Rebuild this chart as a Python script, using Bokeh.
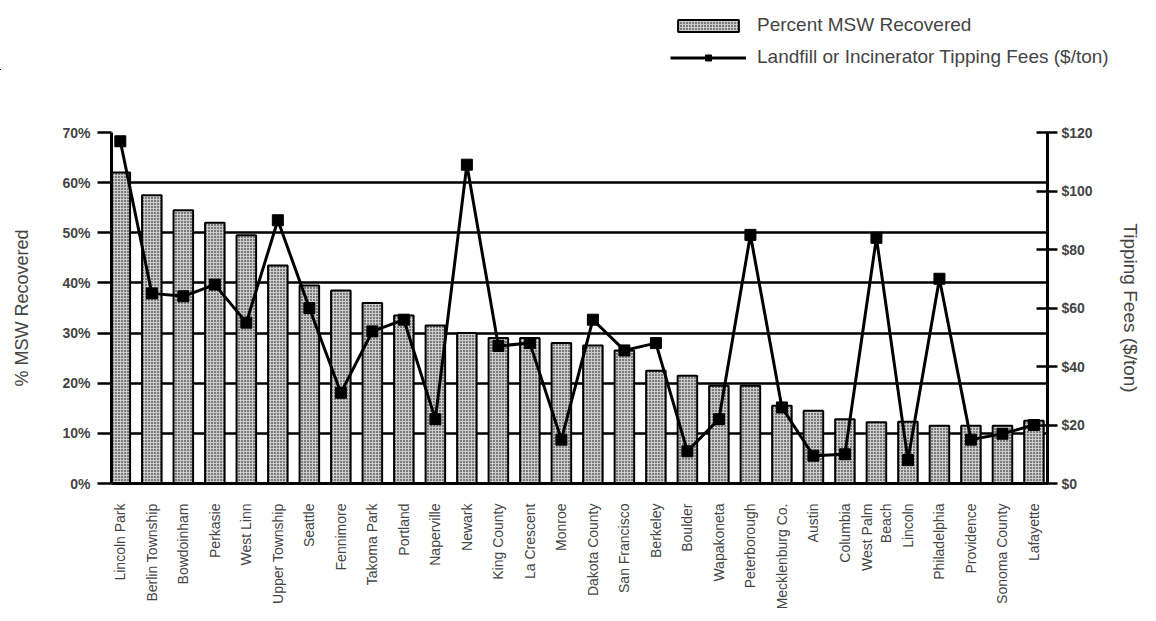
import math
from bokeh.plotting import figure
from bokeh.models import (Range1d, LinearAxis, FixedTicker, PrintfTickFormatter,
                          Legend, LegendItem, ColumnDataSource)
from bokeh.embed import file_html
from bokeh.resources import INLINE

# ---- data ----
cities = ["Lincoln Park", "Berlin Township", "Bowdoinham", "Perkasie", "West Linn",
          "Upper Township", "Seattle", "Fennimore", "Takoma Park", "Portland",
          "Naperville", "Newark", "King County", "La Crescent", "Monroe",
          "Dakota County", "San Francisco", "Berkeley", "Boulder", "Wapakoneta",
          "Peterborough", "Mecklenburg Co.", "Austin", "Columbia", "West Palm\nBeach",
          "Lincoln", "Philadelphia", "Providence", "Sonoma County", "Lafayette"]

pct_recovered = [62, 57.5, 54.5, 52, 49.5,
                 43.5, 39.5, 38.5, 36, 33.5,
                 31.5, 30, 29, 29, 28,
                 27.5, 26.5, 22.5, 21.5, 19.5,
                 19.5, 15.5, 14.5, 12.8, 12.2,
                 12.3, 11.5, 11.5, 11.5, 12.5]

tipping_fees = [117, 65, 64, 68, 55,
                90, 60, 31, 52, 56,
                22, 109, 47, 48, 15,
                56, 45.5, 48, 11, 22,
                85, 26, 9.5, 10, 84,
                8, 70, 15, 17, 20]

pct_ticks = [0, 10, 20, 30, 40, 50, 60, 70]
fee_ticks = [0, 20, 40, 60, 80, 100, 120]

FONT = "Liberation Sans"

BAR_STYLE = dict(fill_color="#cccccc", line_color="black", line_width=2,
                 hatch_pattern="dot", hatch_color="black", hatch_scale=3, hatch_weight=1)
LINE_STYLE = dict(line_color="black", line_width=3)
MARK_STYLE = dict(marker="square", size=11, fill_color="black", line_color="black")

xs = list(range(1, len(cities) + 1))
src = ColumnDataSource(dict(x=xs, pct=pct_recovered, fee=tipping_fees, city=cities))

# ---------------- main chart ----------------
p = figure(width=1148, height=548, output_backend="svg", toolbar_location=None,
           x_range=Range1d(0.72, 30.43), y_range=Range1d(0, 70),
           min_border_left=111, min_border_right=101,
           min_border_top=62, min_border_bottom=135)
p.extra_y_ranges = {"fee": Range1d(0, 120)}
p.outline_line_color = None
p.background_fill_color = "white"

p.vbar(x="x", top="pct", bottom=0, width=0.62, source=src, **BAR_STYLE)
p.line(x="x", y="fee", source=src, y_range_name="fee", **LINE_STYLE)
p.scatter(x="x", y="fee", source=src, y_range_name="fee", **MARK_STYLE)

p.xgrid.grid_line_color = None
p.ygrid.ticker = FixedTicker(ticks=pct_ticks)
p.ygrid.grid_line_color = "black"
p.ygrid.grid_line_width = 2.5

ya = p.yaxis[0]
ya.ticker = FixedTicker(ticks=pct_ticks)
ya.formatter = PrintfTickFormatter(format="%d%%")
ya.axis_label = "% MSW Recovered"
ya.axis_label_text_font = FONT
ya.axis_label_text_font_size = "18px"
ya.axis_label_text_font_style = "normal"
ya.axis_label_standoff = 27
ya.major_label_text_font = FONT
ya.major_label_text_font_size = "14px"
ya.major_label_text_font_style = "bold"
ya.major_label_standoff = 7
ya.axis_line_width = 3
ya.major_tick_line_width = 2.5
ya.major_tick_out = 14
ya.major_tick_in = 0
ya.minor_tick_line_color = None

ra = LinearAxis(y_range_name="fee", ticker=FixedTicker(ticks=fee_ticks),
                formatter=PrintfTickFormatter(format="$%d"))
ra.axis_label = "Tipping Fees ($/ton)"
ra.axis_label_text_font = FONT
ra.axis_label_text_font_size = "19px"
ra.axis_label_text_font_style = "normal"
ra.axis_label_standoff = 24
ra.major_label_text_font = FONT
ra.major_label_text_font_size = "14px"
ra.major_label_text_font_style = "bold"
ra.major_label_standoff = 4
ra.axis_line_width = 3
ra.major_tick_line_width = 2.5
ra.major_tick_out = 10
ra.major_tick_in = 11
ra.minor_tick_line_color = None
p.add_layout(ra, "right")

xa = p.xaxis[0]
xa.ticker = FixedTicker(ticks=xs)
xa.major_label_overrides = {i: c for i, c in zip(xs, cities)}
xa.major_label_orientation = math.pi / 2
xa.major_label_text_font = FONT
xa.major_label_text_font_size = "14px"
xa.major_label_standoff = 14
xa.major_tick_line_color = None
xa.minor_tick_line_color = None
xa.axis_line_width = 3

# ---------------- legend strip (its renderers fall outside its ranges) ----------------
lg = figure(width=1148, height=70, output_backend="svg", toolbar_location=None,
            x_range=Range1d(100, 101), y_range=Range1d(1000, 1001),
            x_axis_type=None, y_axis_type=None,
            min_border=0, min_border_left=0, min_border_right=0,
            min_border_top=0, min_border_bottom=0)
lg.outline_line_color = None
lg.grid.visible = False
lb = lg.vbar(x="x", top="pct", bottom=0, width=0.62, source=src, **BAR_STYLE)
ll = lg.line(x="x", y="fee", source=src, **LINE_STYLE)
lm = lg.scatter(x="x", y="fee", source=src, **MARK_STYLE)

legend = Legend(items=[LegendItem(label="Percent MSW Recovered", renderers=[lb]),
                       LegendItem(label="Landfill or Incinerator Tipping Fees ($/ton)",
                                  renderers=[ll, lm])],
                location=(670, 2), glyph_width=76, glyph_height=15,
                label_height=22, label_text_font=FONT, label_text_font_size="19px",
                label_standoff=11, spacing=10, padding=0, margin=0,
                border_line_color=None, background_fill_alpha=0)
lg.add_layout(legend)

open("out.html", "w").write(file_html([lg, p], INLINE))
